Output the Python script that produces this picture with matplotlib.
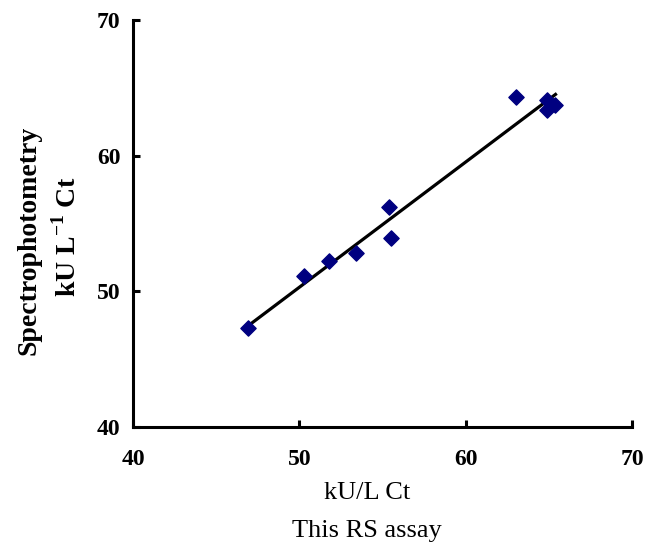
import matplotlib.pyplot as plt
import numpy as np

# RS assay (x) vs spectrophotometry (y), kU/L Ct
rs_assay = [46.9, 50.3, 51.8, 53.4, 55.4, 55.5, 63.0, 64.9, 64.9, 65.4]
spectro = [47.3, 51.1, 52.2, 52.8, 56.2, 53.9, 64.3, 64.1, 63.4, 63.7]

plt.rcParams['font.family'] = ['Liberation Serif', 'DejaVu Serif']
plt.rcParams['mathtext.fontset'] = 'custom'
plt.rcParams['mathtext.rm'] = 'Liberation Serif'
plt.rcParams['mathtext.bf'] = 'Liberation Serif:bold'

fig = plt.figure(figsize=(6.58, 5.47), dpi=100)
ax = fig.add_axes([0.2021, 0.2194, 0.7584, 0.744])

# Regression line over the data range
slope, intercept = np.polyfit(rs_assay, spectro, 1)
xs = np.array([min(rs_assay), max(rs_assay)])
ax.plot(xs, slope * xs + intercept, color='black', lw=2.3, zorder=2)

ax.scatter(rs_assay, spectro, marker='D', s=60, color='#000080', zorder=3)

ax.set_xlim(40, 70)
ax.set_ylim(40, 70)
ax.set_xticks([40, 50, 60, 70])
ax.set_yticks([40, 50, 60, 70])

for side in ['top', 'right']:
    ax.spines[side].set_visible(False)
for side in ['left', 'bottom']:
    ax.spines[side].set_linewidth(2.2)

ax.tick_params(direction='in', length=5, width=2.2, labelsize=17)
ax.tick_params(axis='x', pad=16)
ax.tick_params(axis='y', pad=9)
for lbl in ax.get_xticklabels() + ax.get_yticklabels():
    lbl.set_fontweight('bold')

# Axis titles
fig.text(367 / 658, 1 - 493 / 547, 'kU/L Ct', fontsize=19, ha='center', va='center')
fig.text(367 / 658, 1 - 531 / 547, 'This RS assay', fontsize=19, ha='center', va='center')
fig.text(29 / 658, 1 - 240 / 547, 'Spectrophotometry', fontsize=20, fontweight='bold',
         rotation=90, ha='center', va='center')
fig.text(67 / 658, 1 - 237 / 547, 'kU L$^{\\mathbf{-1}}$ Ct', fontsize=20, fontweight='bold',
         rotation=90, ha='center', va='center')

fig.savefig('out.png', dpi=100)
